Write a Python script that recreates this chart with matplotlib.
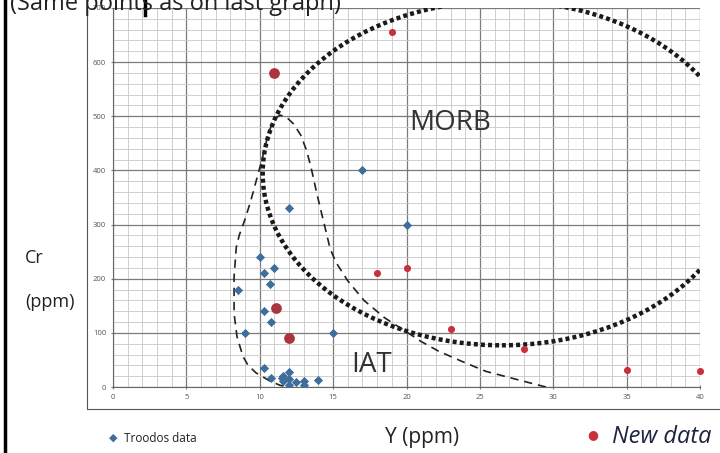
import matplotlib
matplotlib.use("Agg")
import matplotlib.pyplot as plt
from matplotlib.patches import Ellipse, Rectangle
from matplotlib.lines import Line2D

plt.rcParams['font.family'] = ['Open Sans', 'DejaVu Sans']

# Troodos data (Y ppm, Cr ppm)
troodos_y = [17, 20, 12, 15, 10, 10.3, 11, 10.7, 8.5, 10.3, 10.8, 9, 10.3, 10.8,
             11.5, 11.6, 11.6, 12, 12, 12, 12.5, 13, 13, 14]
troodos_cr = [400, 300, 330, 100, 240, 210, 220, 190, 180, 140, 120, 100, 35, 17,
              16, 20, 11, 27, 14, 3, 9, 12, 3, 13]

# new data (hand-marked)
new_y = [19, 18, 20, 23, 28, 35, 40]
new_cr = [655, 210, 220, 107, 70, 32, 30]
new_y_big = [11, 11.1, 12]
new_cr_big = [580, 145, 90]

# IAT field boundary (dashed)
iat_y = [29.5, 27.5, 25.4, 23.8, 22.2, 21.0, 20.1, 18.5, 17.1, 16.0, 15.2, 14.8,
         14.4, 13.9, 13.5, 13.2, 12.8, 12.3, 11.8, 11.4, 11.0, 10.6, 10.2, 9.8,
         9.4, 9.0, 8.6, 8.4, 8.25, 8.25, 8.45, 8.85, 9.2, 9.75, 10.7, 11.4, 12.0]
iat_cr = [0, 14, 29, 47, 66, 84, 100, 128, 160, 196, 230, 255,
          300, 356, 405, 436, 465, 486, 499, 502, 496, 470, 425, 385,
          345, 310, 280, 258, 203, 136, 93, 57, 40, 26, 11, 3, 0]

# MORB field (dotted ellipse): centre and semi-axes in data units
morb_centre = (26.5, 395)
morb_semi = (16.3, 318)

fig = plt.figure(figsize=(7.2, 4.53), dpi=100)
ax = fig.add_axes([113 / 720, 1 - 387 / 453, 587 / 720, 379 / 453])

ax.set_xlim(0, 40)
ax.set_ylim(0, 700)
ax.set_xticks(range(0, 41, 5))
ax.set_yticks(range(0, 701, 100))
ax.set_xticks(range(0, 41, 1), minor=True)
ax.set_yticks(range(0, 701, 20), minor=True)
ax.grid(which='major', color='#7a7a7a', linewidth=0.9)
ax.grid(which='minor', color='#c8c8c8', linewidth=0.6)
ax.set_axisbelow(True)
ax.tick_params(which='major', labelsize=5.5, labelcolor='#555555', length=3,
               color='#777777', direction='inout')
ax.tick_params(which='minor', length=0)
for side in ['top', 'right']:
    ax.spines[side].set_visible(False)
for side in ['left', 'bottom']:
    ax.spines[side].set_color('#666666')
    ax.spines[side].set_linewidth(0.8)

# fields
ax.add_patch(Ellipse(morb_centre, 2 * morb_semi[0], 2 * morb_semi[1], fill=False,
                     edgecolor='#1a1a1a', linewidth=3.2, linestyle=(0, (0.9, 0.7)),
                     zorder=3))
ax.plot(iat_y, iat_cr, color='#222222', linewidth=1.2, linestyle=(0, (5, 3.5)), zorder=3)

ax.scatter(troodos_y, troodos_cr, marker='D', s=22, color='#3f6d9c', zorder=4, linewidths=0)
ax.scatter(new_y, new_cr, marker='o', s=26, color='#c8313c', zorder=4, linewidths=0,
           clip_on=False)
ax.scatter(new_y_big, new_cr_big, marker='o', s=60, color='#a8353f', zorder=4, linewidths=0)

ax.text(23, 488, 'MORB', fontsize=20, color='#333333', ha='center', va='center', zorder=5)
ax.text(17.6, 40, 'IAT', fontsize=20, color='#333333', ha='center', va='center', zorder=5)

# chart-area border
fig.patches.append(Rectangle((87 / 720, 1 - 409 / 453), 1.0, 1.0, transform=fig.transFigure,
                             fill=False, edgecolor='#555555', linewidth=0.8))
# slide edge on the left
fig.add_artist(Line2D([5 / 720, 5 / 720], [0, 1], transform=fig.transFigure,
                      color='black', linewidth=2.5))
# text cursor in the cut-off title
fig.add_artist(Line2D([145 / 720, 145 / 720], [1 - 15 / 453, 1], transform=fig.transFigure,
                      color='black', linewidth=2.5))

fig.text(25 / 720, 1 - 258 / 453, 'Cr', fontsize=13, color='#222222', va='center')
fig.text(25 / 720, 1 - 302 / 453, '(ppm)', fontsize=13, color='#222222', va='center')
fig.text(422 / 720, 1 - 437 / 453, 'Y (ppm)', fontsize=15, color='#222222',
         ha='center', va='center')

fig.text(113 / 720, 1 - 438 / 453, '\u25c6', fontsize=8, color='#3f6d9c',
         ha='center', va='center', family=['DejaVu Sans'])
fig.text(124 / 720, 1 - 438 / 453, 'Troodos data', fontsize=8.5, color='#222222',
         va='center')
fig.text(593 / 720, 1 - 435 / 453, '\u25cf', fontsize=9, color='#c8313c',
         ha='center', va='center', family=['DejaVu Sans'])
fig.text(612 / 720, 1 - 437 / 453, 'New data', fontsize=17, color='#1c2540',
         va='center', style='italic')

# title cut off by the top of the screenshot
fig.text(10 / 720, 1 - 10 / 453, '(Same points as on last graph)', fontsize=17,
         color='#222222', va='baseline')

fig.savefig('out.png', dpi=100)
